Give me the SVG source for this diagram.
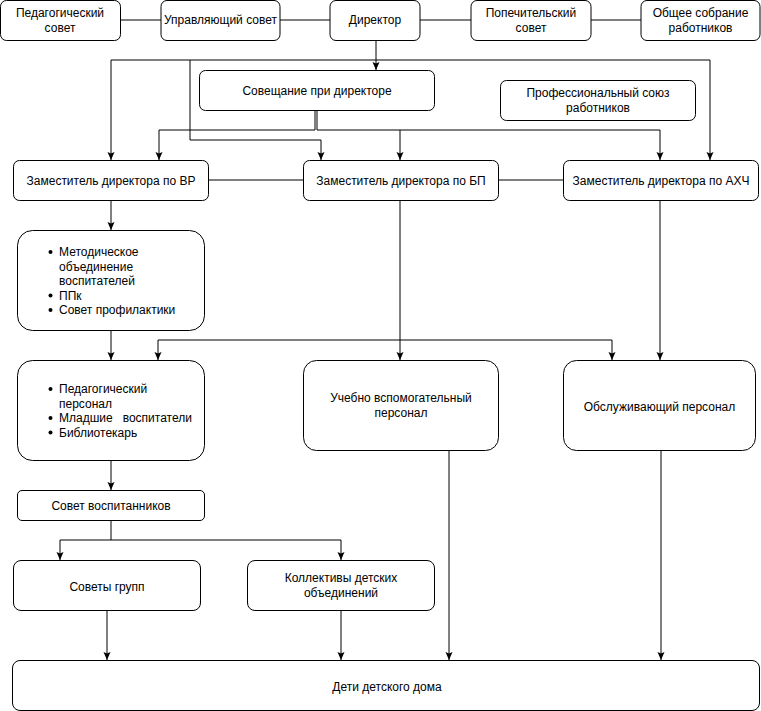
<svg xmlns="http://www.w3.org/2000/svg" width="761" height="711" viewBox="0 0 761 711">
<style>
.box{fill:#fff;stroke:#000;stroke-width:1}
.t{font-family:"Liberation Sans",Arial,sans-serif;font-size:12px;fill:#000;text-anchor:middle}
.tl{font-family:"Liberation Sans",Arial,sans-serif;font-size:12px;fill:#000;white-space:pre}
.c{fill:none;stroke:#000;stroke-width:1}
.a{fill:none;stroke:#000;stroke-width:1;marker-end:url(#arr)}
</style>
<defs>
<marker id="arr" markerUnits="userSpaceOnUse" markerWidth="10" markerHeight="10" refX="8" refY="4" orient="auto">
<path d="M0,0.5 L8,4 L0,7.5 L1.5,4 z" fill="#000"/>
</marker>
</defs>
<rect width="761" height="711" fill="#fff"/>
<g id="connectors">
<path class="c" d="M120,20 H161 M280,20 H330 M420,20 H471 M591,20 H641"/>
<path class="a" d="M376,40 V70"/>
<path class="a" d="M111,60 H710 V160"/>
<path class="a" d="M111,60 V160"/>
<path class="a" d="M190,60 V140 H321 V160"/>
<path class="a" d="M315,110 V130 H159 V160"/>
<path class="a" d="M317,110 V130 H660 V160"/>
<path class="a" d="M400,130 V160"/>
<path class="c" d="M208,180 H303 M498,180 H563"/>
<path class="a" d="M111,200 V230"/>
<path class="a" d="M111,330 V360"/>
<path class="a" d="M385,340 H158 V360"/>
<path class="a" d="M385,340 H612 V360"/>
<path class="a" d="M400,200 V360"/>
<path class="a" d="M660,200 V360"/>
<path class="a" d="M111,460 V490"/>
<path class="a" d="M111,520 V540 H60 V560"/>
<path class="a" d="M111,540 H341 V560"/>
<path class="a" d="M107,610 V660"/>
<path class="a" d="M341,610 V660"/>
<path class="a" d="M449,450 V660"/>
<path class="a" d="M661,450 V660"/>
</g>
<g id="n-ped-sovet"><rect class="box" x="0.5" y="0.5" width="120" height="40" rx="6"/><text class="t" x="60" y="17">Педагогический</text><text class="t" x="60" y="31.5">совет</text></g>
<g id="n-upr-sovet"><rect class="box" x="161" y="0.5" width="119" height="40" rx="6"/><text class="t" x="220.5" y="24">Управляющий совет</text></g>
<g id="n-director"><rect class="box" x="330" y="0.5" width="90" height="40" rx="6"/><text class="t" x="375" y="24">Директор</text></g>
<g id="n-popech"><rect class="box" x="471" y="0.5" width="120" height="40" rx="6"/><text class="t" x="531" y="17">Попечительский</text><text class="t" x="531" y="31.5">совет</text></g>
<g id="n-obshee"><rect class="box" x="641" y="0.5" width="119" height="40" rx="6"/><text class="t" x="700.5" y="17">Общее собрание</text><text class="t" x="700.5" y="31.5">работников</text></g>
<g id="n-soveshanie"><rect class="box" x="199.5" y="70.5" width="235" height="40" rx="6"/><text class="t" x="317" y="94.5">Совещание при директоре</text></g>
<g id="n-profsoyuz"><rect class="box" x="500.5" y="80.5" width="195" height="40" rx="6"/><text class="t" x="598" y="97">Профессиональный союз</text><text class="t" x="598" y="112">работников</text></g>
<g id="n-zam-vr"><rect class="box" x="13.5" y="160.5" width="195" height="40" rx="6"/><text class="t" x="111" y="184.5">Заместитель директора по ВР</text></g>
<g id="n-zam-bp"><rect class="box" x="303.5" y="160.5" width="195" height="40" rx="6"/><text class="t" x="401" y="184.5">Заместитель директора по БП</text></g>
<g id="n-zam-ahch"><rect class="box" x="563.5" y="160.5" width="195" height="40" rx="6"/><text class="t" x="661" y="184.5">Заместитель директора по АХЧ</text></g>
<g id="n-metod"><rect class="box" x="17.5" y="230.5" width="187" height="100" rx="15"/>
<circle cx="50.5" cy="252" r="2"/><circle cx="50.5" cy="295.5" r="2"/><circle cx="50.5" cy="310" r="2"/>
<text class="tl" x="59" y="256">Методическое</text><text class="tl" x="59" y="270.5">объединение</text><text class="tl" x="59" y="285">воспитателей</text><text class="tl" x="59" y="299.5">ППк</text><text class="tl" x="59" y="314">Совет профилактики</text></g>
<g id="n-pedpersonal"><rect class="box" x="17.5" y="360.5" width="187" height="100" rx="15"/>
<circle cx="50.5" cy="389" r="2"/><circle cx="50.5" cy="418" r="2"/><circle cx="50.5" cy="432.5" r="2"/>
<text class="tl" x="59" y="393">Педагогический</text><text class="tl" x="59" y="407.5">персонал</text><text class="tl" x="59" y="422">Младшие   воспитатели</text><text class="tl" x="59" y="436.5">Библиотекарь</text></g>
<g id="n-uchebno"><rect class="box" x="303.5" y="360.5" width="195" height="90" rx="13"/><text class="t" x="401" y="402">Учебно вспомогательный</text><text class="t" x="401" y="417">персонал</text></g>
<g id="n-obsluzh"><rect class="box" x="563.5" y="360.5" width="192" height="90" rx="13"/><text class="t" x="659.5" y="411">Обслуживающий персонал</text></g>
<g id="n-sovet-vosp"><rect class="box" x="17.5" y="490.5" width="187" height="30" rx="4.5"/><text class="t" x="111" y="510">Совет воспитанников</text></g>
<g id="n-sovety-grupp"><rect class="box" x="13.5" y="560.5" width="187" height="50" rx="7.5"/><text class="t" x="107" y="591">Советы групп</text></g>
<g id="n-kollektivy"><rect class="box" x="247.5" y="560.5" width="187" height="50" rx="7.5"/><text class="t" x="341" y="582">Коллективы детских</text><text class="t" x="341" y="597">объединений</text></g>
<g id="n-deti"><rect class="box" x="12.5" y="660.5" width="747" height="50" rx="7.5"/><text class="t" x="387" y="691">Дети детского дома</text></g>
</svg>
